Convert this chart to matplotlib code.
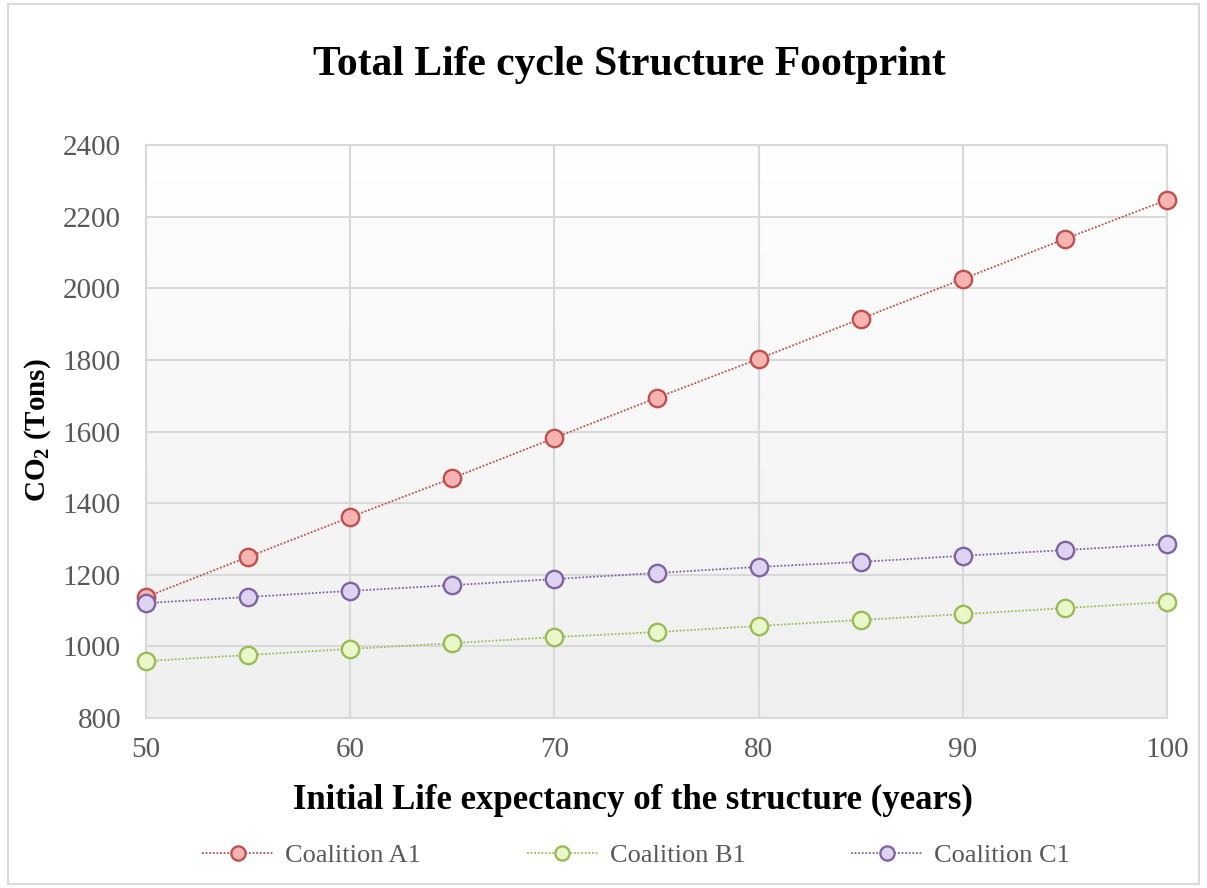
import matplotlib.pyplot as plt
import numpy as np
from matplotlib.patches import Rectangle
from matplotlib.colors import LinearSegmentedColormap

plt.rcParams['font.family'] = ['Liberation Serif', 'DejaVu Serif']
plt.rcParams['mathtext.fontset'] = 'custom'
plt.rcParams['mathtext.rm'] = 'Liberation Serif'
plt.rcParams['mathtext.bf'] = 'Liberation Serif:bold'

# data
years = [50, 55, 60, 65, 70, 75, 80, 85, 90, 95, 100]
coalition_a1 = [1138, 1250, 1361, 1470, 1582, 1694, 1803, 1915, 2026, 2138, 2247]
coalition_b1 = [959, 976, 993, 1009, 1026, 1040, 1057, 1074, 1090, 1107, 1124]
coalition_c1 = [1121, 1138, 1155, 1171, 1188, 1205, 1222, 1236, 1253, 1269, 1286]

fig = plt.figure(figsize=(12.07, 8.88), dpi=100)
ax = fig.add_axes([0.121, 0.1914, 0.846, 0.6453])

# outer chart border
fig.patches.append(Rectangle((0.007, 0.005), 0.986, 0.99, transform=fig.transFigure,
                             fill=False, edgecolor='#d9d9d9', linewidth=1.5))

# plot area gradient (white top -> light grey bottom)
grad = np.linspace(1.0, 0.0, 256).reshape(-1, 1)
ax.imshow(grad, extent=[0, 1, 0, 1], transform=ax.transAxes, aspect='auto',
          cmap=LinearSegmentedColormap.from_list('g', ['#efefef', '#ffffff']), zorder=0)

series = [
    (coalition_a1, 'Coalition A1', '#c0504d', '#f5b3b1'),
    (coalition_b1, 'Coalition B1', '#9bbb59', '#eaf7c8'),
    (coalition_c1, 'Coalition C1', '#8064a2', '#ddd3f0'),
]
for vals, name, edge, face in series:
    ax.plot(years, vals, linestyle=(0, (1, 1)), color=edge, linewidth=1.3,
            marker='o', markersize=12.5, markerfacecolor=face, markeredgecolor=edge,
            markeredgewidth=1.7, label=name, zorder=3, clip_on=False)

ax.set_xlim(50, 100)
ax.set_ylim(800, 2400)
ax.set_xticks([50, 60, 70, 80, 90, 100])
ax.set_yticks(range(800, 2401, 200))
ax.grid(True, color='#d9d9d9', linewidth=1.5, zorder=1)
ax.set_axisbelow(True)
for s in ax.spines.values():
    s.set_color('#d9d9d9')
    s.set_linewidth(1.5)
ax.tick_params(length=0, labelsize=21, labelcolor='#595959')
ax.tick_params(axis='y', pad=18)
ax.tick_params(axis='x', pad=14)

fig.text(0.521, 0.927, 'Total Life cycle Structure Footprint', fontsize=30,
         fontweight='bold', ha='center', va='center')
fig.text(0.524, 0.099, 'Initial Life expectancy of the structure (years)', fontsize=25,
         fontweight='bold', ha='center', va='center')
fig.text(0.031, 0.516, r'$\mathbf{CO_2}$ (Tons)', fontsize=21, fontweight='bold',
         rotation=90, ha='center', va='center')

leg = fig.legend(*ax.get_legend_handles_labels(), loc='center', bbox_to_anchor=(0.527, 0.037),
                 ncol=3, frameon=False, fontsize=19, handlelength=2.7, handletextpad=0.45,
                 columnspacing=4.0, markerscale=0.82)
for t in leg.get_texts():
    t.set_color('#595959')

fig.savefig('out.png', dpi=100)
